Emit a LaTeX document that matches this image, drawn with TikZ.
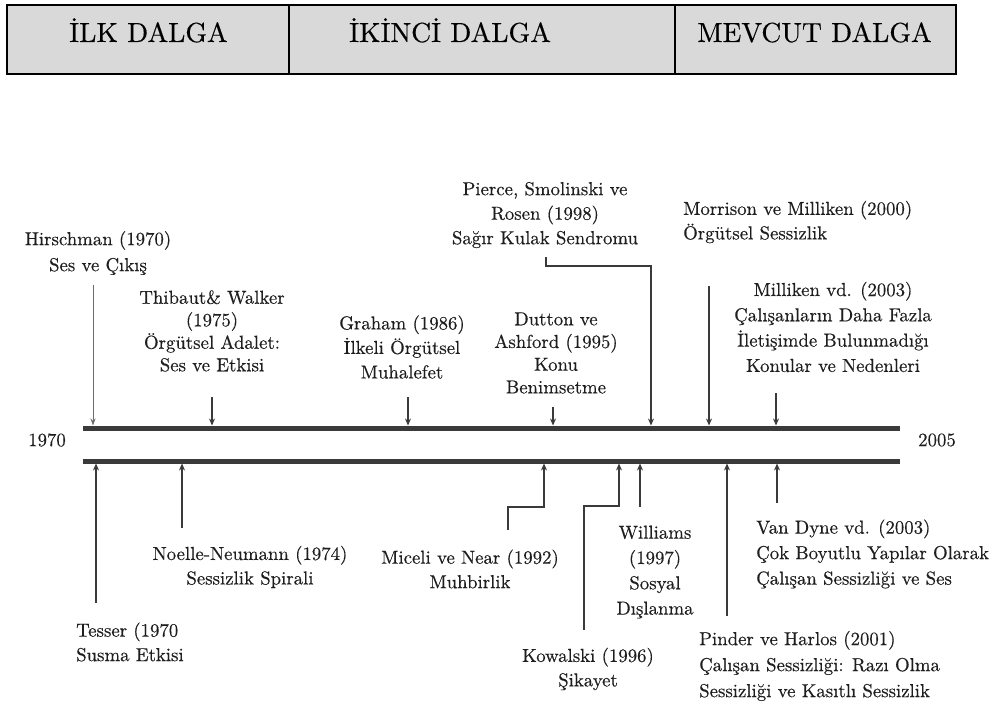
\documentclass[tikz,border=0pt]{standalone}
\usepackage{fontspec}
\setmainfont{lmroman10-regular.otf}[FakeBold=0.35]
\usetikzlibrary{arrows.meta}
\definecolor{ln}{HTML}{3A3A3A}
\definecolor{txt}{HTML}{1E1E1E}
\definecolor{hdr}{HTML}{D9D9D9}
\newcommand{\lblsize}[1]{\fontsize{18.8}{#1}\selectfont}
\begin{document}
\begin{tikzpicture}[x=1pt,y=-1pt,
  lbl/.style={font=\lblsize{24.5}, text=txt, inner sep=0pt, align=center},
  lbll/.style={lbl, align=left, anchor=west},
  bar/.style={line width=5pt, draw=ln},
  arr/.style={line width=1.8pt, draw=ln, -{Stealth[length=7pt,width=6pt]}},
  thinarr/.style={line width=1pt, draw=ln!75, -{Stealth[length=7pt,width=5pt]}},
  hdrtext/.style={font=\fontsize{27.6}{32}\selectfont, text=black, inner sep=0pt, anchor=base},
  cell/.style={draw=black, line width=1.6pt, fill=hdr}]
\useasboundingbox (0,0) rectangle (998,706);
\fill[white] (0,0) rectangle (998,706);
% header
\path[cell] (7,5) rectangle (289,74);
\path[cell] (289,5) rectangle (675,74);
\path[cell] (675,5) rectangle (956,74);
\node[hdrtext] (h1) at (148.5,42) {İLK DALGA};
\node[hdrtext] (h2) at (450,42) {İKİNCİ DALGA};
\node[hdrtext] (h3) at (814.5,42) {MEVCUT DALGA};
% timeline bars
\coordinate (ubL) at (83,428); \coordinate (ubR) at (900,428);
\coordinate (lbL) at (83,461); \coordinate (lbR) at (900,461);
\draw[bar] (ubL) -- (ubR);
\draw[bar] (lbL) -- (lbR);
\coordinate (ub) at (0,425.5);
\coordinate (lb) at (0,463.5);
\node[lbl] (y1970) at (47,440) {1970};
\node[lbl] (y2005) at (937,440) {2005};
% upper labels
\node[lbl, font=\lblsize{26}] (hir) at (98,253) {Hirschman (1970)\\Ses ve Çıkış};
\node[lbl, font=\lblsize{22.5}] (thi) at (212,331) {Thibaut\& Walker\\(1975)\\Örgütsel Adalet:\\Ses ve Etkisi};
\node[lbl] (gra) at (402,347) {Graham (1986)\\İlkeli Örgütsel\\Muhalefet};
\node[lbl] (pie) at (545,215) {Pierce, Smolinski ve\\Rosen (1998)\\Sağır Kulak Sendromu};
\node[lbl, font=\lblsize{22.7}] (dut) at (556,353) {Dutton ve\\Ashford (1995)\\Konu\\Benimsetme};
\node[lbll] (mor) at (683,222) {Morrison ve Milliken (2000)\\Örgütsel Sessizlik};
\node[lbl, font=\lblsize{25.3}] (mil) at (833,327) {Milliken vd. (2003)\\Çalışanların Daha Fazla\\İletişimde Bulunmadığı\\Konular ve Nedenleri};
% lower labels
\node[lbl] (noe) at (250,567) {Noelle-Neumann (1974)\\Sessizlik Spirali};
\node[lbll] (tes) at (76,642) {Tesser (1970\\Susma Etkisi};
\node[lbl] (mic) at (470,569) {Miceli ve Near (1992)\\Muhbirlik};
\node[lbl, font=\lblsize{25.3}] (wil) at (655,572) {Williams\\(1997)\\Sosyal\\Dışlanma};
\node[lbl] (kow) at (588,669) {Kowalski (1996)\\Şikayet};
\node[lbll, font=\lblsize{26}] (pin) at (699,666) {Pinder ve Harlos (2001)\\Çalışan Sessizliği: Razı Olma\\Sessizliği ve Kasıtlı Sessizlik};
\node[lbll, font=\lblsize{25.5}] (van) at (756,554) {Van Dyne vd. (2003)\\Çok Boyutlu Yapılar Olarak\\Çalışan Sessizliği ve Ses};
% down arrows to upper bar
\coordinate (hirS) at (93,285);
\coordinate (thiS) at (212,397);
\coordinate (graS) at (408,397);
\coordinate (dutS) at (553,407);
\coordinate (pieS) at (546,257);
\coordinate (pieK) at (651,266);
\coordinate (morS) at (709,286);
\coordinate (milS) at (776,393);
\draw[thinarr] (hirS) -- (hirS |- ub);
\draw[arr] (thiS) -- (thiS |- ub);
\draw[arr] (graS) -- (graS |- ub);
\draw[arr] (dutS) -- (dutS |- ub);
\draw[arr] (pieS) |- (pieK) -- (pieK |- ub);
\draw[arr] (morS) -- (morS |- ub);
\draw[arr] (milS) -- (milS |- ub);
% up arrows to lower bar
\coordinate (tesS) at (96,603);
\coordinate (noeS) at (182,528);
\coordinate (micS) at (508,530);
\coordinate (micK) at (544,507);
\coordinate (kowS) at (584,630);
\coordinate (kowK) at (619,506);
\coordinate (wilS) at (640,507);
\coordinate (pinS) at (727,616);
\coordinate (vanS) at (777,503);
\draw[arr] (tesS) -- (tesS |- lb);
\draw[arr] (noeS) -- (noeS |- lb);
\draw[arr] (micS) |- (micK) -- (micK |- lb);
\draw[arr] (kowS) |- (kowK) -- (kowK |- lb);
\draw[arr] (wilS) -- (wilS |- lb);
\draw[arr] (pinS) -- (pinS |- lb);
\draw[arr] (vanS) -- (vanS |- lb);
\end{tikzpicture}
\end{document}
